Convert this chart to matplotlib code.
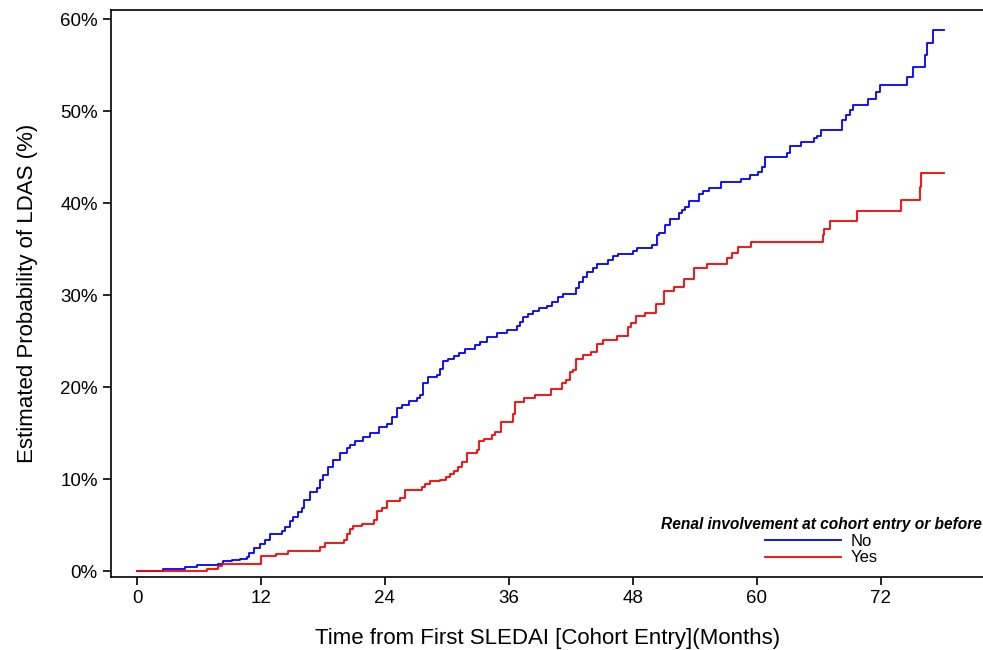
import numpy as np
import matplotlib
matplotlib.use("Agg")
import matplotlib.pyplot as plt

plt.rcParams['font.family'] = ['Liberation Sans', 'DejaVu Sans']

# Kaplan-Meier style cumulative probability (%), months
no_t = [0, 2.5, 4.6, 5.8, 7.8, 8.3, 9.2, 10.0, 10.6, 10.8, 11.3, 11.9, 12.4, 12.9,
        14.0, 14.3, 14.8, 15.1, 15.6, 16.0, 16.2, 16.7, 17.4, 17.7, 18.0, 18.5,
        19.0, 19.7, 20.3, 20.6, 21.1, 21.9, 22.6, 23.4, 24.2, 24.7, 25.2, 25.7,
        26.3, 27.1, 27.4, 27.7, 28.2, 29.0, 29.3, 29.6, 30.1, 30.7, 31.2, 31.8,
        32.7, 33.2, 33.9, 34.9, 35.8, 36.8, 37.1, 37.4, 37.9, 38.3, 38.9, 39.7,
        40.2, 40.8, 41.2, 42.5, 42.8, 43.2, 43.6, 44.1, 44.5, 45.6, 46.1, 46.6,
        48.0, 48.4, 49.9, 50.3, 50.5, 51.1, 51.6, 52.5, 52.8, 53.1, 53.4, 54.4,
        54.8, 55.4, 56.5, 58.5, 59.3, 60.1, 60.5, 60.8, 62.9, 63.2, 64.3, 65.5,
        65.8, 66.2, 68.3, 68.6, 69.0, 69.3, 70.8, 71.5, 71.9, 74.5, 75.1, 76.3,
        76.5, 77.1, 78.1]
no_p = [0, 0.2, 0.4, 0.65, 0.8, 1.05, 1.2, 1.3, 1.55, 1.95, 2.5, 2.9, 3.4, 4.0,
        4.3, 4.8, 5.4, 5.9, 6.4, 6.9, 7.7, 8.6, 9.0, 9.9, 10.4, 11.3,
        12.1, 12.8, 13.4, 13.7, 14.1, 14.6, 15.0, 15.7, 16.0, 16.8, 17.7, 18.0,
        18.5, 18.8, 19.1, 20.4, 21.1, 21.3, 22.0, 22.8, 23.0, 23.4, 23.7, 24.1,
        24.6, 24.9, 25.4, 25.9, 26.2, 26.6, 27.1, 27.6, 28.0, 28.3, 28.6, 28.8,
        29.3, 29.8, 30.1, 30.8, 31.4, 32.0, 32.5, 33.0, 33.4, 33.8, 34.2, 34.5,
        34.8, 35.1, 35.4, 36.5, 36.7, 37.6, 38.3, 38.9, 39.3, 39.6, 40.2, 41.0,
        41.3, 41.7, 42.3, 42.6, 43.1, 43.4, 43.9, 45.0, 45.4, 46.2, 46.6, 47.1,
        47.3, 48.0, 49.0, 49.6, 50.1, 50.7, 51.3, 52.1, 52.8, 53.7, 54.8, 56.1,
        57.4, 58.8, 58.8]

yes_t = [0, 6.8, 7.8, 8.2, 12.0, 13.5, 14.6, 17.7, 18.2, 20.0, 20.3, 20.6, 20.9,
         21.8, 22.9, 23.2, 23.7, 24.2, 25.5, 25.9, 27.6, 27.9, 28.4, 29.3, 29.9,
         30.3, 30.7, 31.1, 31.5, 31.9, 32.9, 33.1, 33.6, 34.4, 34.7, 35.2, 36.4,
         36.6, 37.5, 38.5, 40.1, 41.1, 41.5, 41.9, 42.2, 42.5, 43.2, 44.0, 44.5,
         45.1, 46.5, 47.5, 47.8, 48.3, 49.2, 50.2, 51.0, 52.0, 53.0, 53.9, 55.2,
         57.1, 57.6, 58.2, 59.4, 66.4, 66.5, 67.1, 69.7, 74.0, 75.8, 75.9, 78.1]
yes_p = [0, 0.25, 0.5, 0.8, 1.65, 1.9, 2.2, 2.6, 3.0, 3.4, 4.0, 4.6, 4.9,
         5.1, 5.5, 6.5, 6.8, 7.6, 7.9, 8.8, 9.1, 9.45, 9.8, 9.95, 10.2,
         10.5, 10.9, 11.3, 11.9, 12.8, 13.2, 14.1, 14.4, 14.8, 15.1, 16.2, 17.1,
         18.4, 18.8, 19.1, 19.8, 20.4, 20.8, 21.6, 21.9, 23.0, 23.5, 23.8, 24.7,
         25.1, 25.5, 26.5, 27.0, 27.7, 28.1, 29.0, 30.5, 30.9, 31.8, 32.9, 33.4,
         34.0, 34.6, 35.2, 35.8, 36.5, 37.2, 38.1, 39.1, 40.3, 41.8, 43.3, 43.3]

x_ticks = [0, 12, 24, 36, 48, 60, 72]
y_ticks = [0, 10, 20, 30, 40, 50, 60]

fig = plt.figure(figsize=(9.83, 6.5), dpi=100)
ax = fig.add_axes([111 / 983, 1 - 577 / 650, 874 / 983, 567 / 650])

ax.step(no_t, no_p, where='post', color='#0000ff', lw=1.3, label='No')
ax.step(yes_t, yes_p, where='post', color='#ff0000', lw=1.3, label='Yes')

ax.set_xlim(-2.52, 82.1)
ax.set_ylim(-0.65, 61.0)
ax.set_xticks(x_ticks)
ax.set_yticks(y_ticks)
ax.set_yticklabels([f'{v}%' for v in y_ticks])
ax.tick_params(direction='out', length=6, width=1.2, labelsize=13.5, colors='black')
for s in ax.spines.values():
    s.set_linewidth(1.2)

ax.set_xlabel('Time from First SLEDAI [Cohort Entry](Months)', fontsize=16, labelpad=15)
ax.set_ylabel('Estimated Probability of LDAS (%)', fontsize=16, labelpad=16)

leg = ax.legend(title='Renal involvement at cohort entry or before', frameon=False,
                loc='center', bbox_to_anchor=(821 / 983, 1 - 541 / 650),
                bbox_transform=fig.transFigure, fontsize=12, handlelength=4.6,
                handletextpad=0.55, labelspacing=0.12, borderpad=0, borderaxespad=0,
                title_fontproperties={'weight': 'bold', 'style': 'italic', 'size': 11.2})

fig.savefig('out.png', dpi=100)
